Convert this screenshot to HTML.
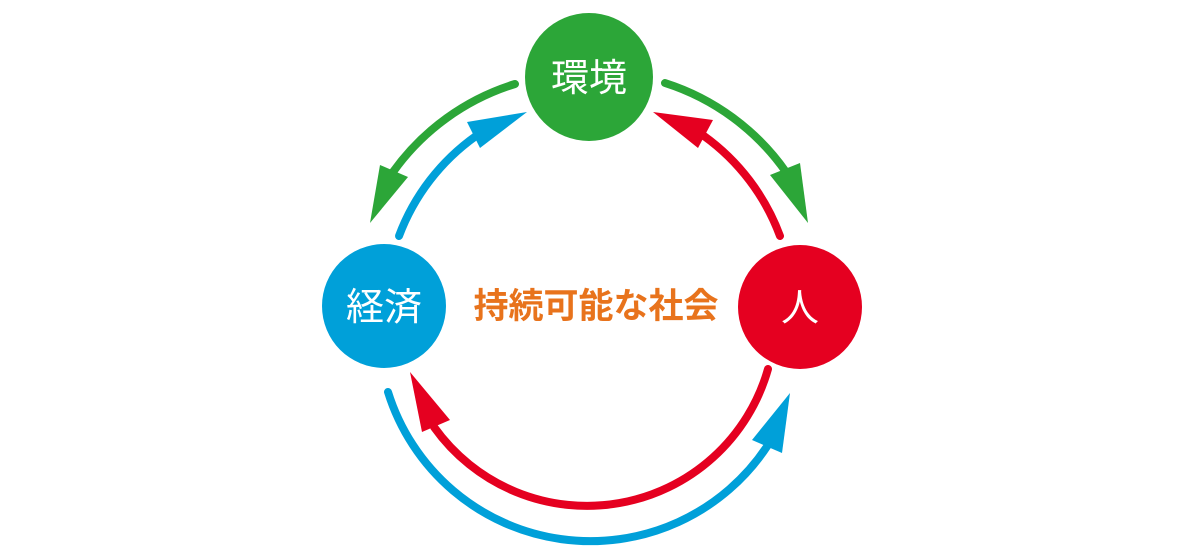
<!DOCTYPE html>
<html><head><meta charset="utf-8"><style>
html,body{margin:0;padding:0;background:#fff;}
svg{display:block;}
</style></head><body>
<svg width="1191" height="555" viewBox="0 0 1191 555" xmlns="http://www.w3.org/2000/svg">
<g fill="none" stroke-width="8" stroke-linecap="round">
  <path d="M515 84 A235 235 0 0 0 393 172" stroke="#2ca638"/>
  <path d="M399 236 A215 215 0 0 1 476 136" stroke="#00a0d9"/>
  <path d="M665 83 A235 235 0 0 1 786 172" stroke="#2ca638"/>
  <path d="M780 236 A215 215 0 0 0 704 136" stroke="#e50020"/>
  <path d="M768 369 A188 188 0 0 1 434 427" stroke="#e50020"/>
  <path d="M388 392 A212 212 0 0 0 768 445" stroke="#00a0d9"/>
</g>
<polygon points="380,165 408,177 370,223" fill="#2ca638"/>
<polygon points="467,122 480,148 527,112" fill="#00a0d9"/>
<polygon points="770,175 800,163 808,223" fill="#2ca638"/>
<polygon points="698,148 713,120 653,112" fill="#e50020"/>
<polygon points="422,432 450,420 410,372" fill="#e50020"/>
<polygon points="752,440 782,453 790,393" fill="#00a0d9"/>
<circle cx="589" cy="77" r="64" fill="#2ca638"/>
<circle cx="384" cy="306" r="62" fill="#00a0d9"/>
<circle cx="800" cy="307" r="62" fill="#e50020"/>
<g font-family="'Liberation Sans','Noto Sans CJK JP',sans-serif" text-anchor="middle" fill="#fff" font-size="38">
  <text x="589" y="91">環境</text>
  <text x="384" y="320">経済</text>
  <text x="800" y="321">人</text>
</g>
<text x="596" y="318" text-anchor="middle" font-family="'Liberation Sans','Noto Sans CJK JP',sans-serif" font-size="35" font-weight="bold" fill="#e8731c">持続可能な社会</text>
</svg>
</body></html>
